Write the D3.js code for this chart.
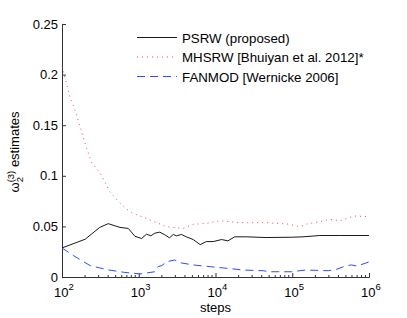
<!DOCTYPE html>
<html>
<head>
<meta charset="utf-8">
<script src="https://cdn.jsdelivr.net/npm/d3@7"></script>
<style>
  body { margin: 0; background: #fff; }
  text { font-family: "Liberation Sans", Arial, sans-serif; }
</style>
</head>
<body>
<script>
const width = 407;
const height = 318;

// values (x = steps, y = estimate)
const psrwSteps = [100, 200, 310, 400, 570, 730, 890, 1090, 1260, 1440, 1620, 1880, 2190, 2510, 2820, 3090, 3610, 4170, 5130, 6310, 7590, 9330, 12000, 14500, 17800, 25100, 45700, 100000, 138000, 229000, 417000, 1000000];
const psrwValues = [0.0287, 0.0373, 0.049, 0.0527, 0.049, 0.048, 0.0403, 0.038, 0.0423, 0.0407, 0.0433, 0.0443, 0.0417, 0.0387, 0.042, 0.0407, 0.042, 0.0397, 0.037, 0.032, 0.035, 0.035, 0.037, 0.0357, 0.0397, 0.0397, 0.039, 0.0393, 0.0397, 0.041, 0.041, 0.041];

const mhsrwSteps = [100, 127, 148, 200, 244, 313, 422, 537, 697, 841, 1100, 1480, 1890, 2310, 3800, 5130, 7670, 11500, 20900, 46800, 85100, 126000, 155000, 229000, 309000, 417000, 631000, 1000000];
const mhsrwValues = [0.208, 0.178, 0.165, 0.132, 0.113, 0.103, 0.084, 0.075, 0.067, 0.063, 0.0596, 0.0556, 0.0524, 0.0497, 0.048, 0.052, 0.053, 0.0556, 0.0537, 0.0537, 0.0524, 0.0497, 0.0524, 0.0547, 0.057, 0.0556, 0.0603, 0.0596];

const fanmodSteps = [100, 140, 232, 380, 631, 1040, 1620, 1780, 2000, 2310, 2950, 3470, 5130, 8510, 14100, 22900, 41700, 51300, 72400, 97700, 148000, 200000, 295000, 380000, 490000, 589000, 692000, 891000, 1000000];
const fanmodValues = [0.0287, 0.0213, 0.0113, 0.0073, 0.0047, 0.003, 0.0052, 0.0102, 0.0113, 0.0151, 0.0168, 0.0141, 0.0119, 0.0102, 0.0086, 0.0069, 0.0062, 0.0052, 0.0052, 0.0052, 0.0069, 0.0066, 0.0062, 0.0076, 0.0109, 0.0119, 0.0109, 0.0135, 0.015];

const yTicks = [0, 0.05, 0.1, 0.15, 0.2, 0.25];
const xTicks = [1e2, 1e3, 1e4, 1e5, 1e6];
const legendLabels = ["PSRW (proposed)", "MHSRW [Bhuiyan et al. 2012]*", "FANMOD [Wernicke 2006]"];

const margin = { top: 24, right: 38, bottom: 41, left: 62 };

const svg = d3.select("body")
    .append("svg")
    .attr("width", width)
    .attr("height", height);

const x = d3.scaleLog()
    .domain([1e2, 1e6])
    .range([margin.left, width - margin.right]);

const y = d3.scaleLinear()
    .domain([0, 0.25])
    .range([height - margin.bottom, margin.top]);

const axisColor = "#333";

// y axis, ticks pointing inward
const yAxis = svg.append("g")
    .attr("transform", `translate(${margin.left},0)`)
    .call(d3.axisLeft(y)
        .tickValues(yTicks)
        .tickSize(-4)
        .tickPadding(4)
        .tickFormat(d => d === 0 ? "0" : String(d)));
yAxis.select(".domain").attr("stroke", axisColor);
yAxis.selectAll(".tick line").attr("stroke", axisColor);
yAxis.selectAll(".tick text")
    .attr("font-size", 13)
    .attr("fill", "#000")
    .attr("font-family", "Liberation Sans, Arial, sans-serif");

// x axis with minor log ticks
const minor = [];
for (let e = 2; e < 6; e++) {
    for (let m = 2; m <= 9; m++) minor.push(m * Math.pow(10, e));
}
const xAxis = svg.append("g")
    .attr("transform", `translate(0,${height - margin.bottom})`)
    .call(d3.axisBottom(x)
        .tickValues(xTicks)
        .tickSize(-4)
        .tickFormat(""));
xAxis.select(".domain").attr("stroke", axisColor);
xAxis.selectAll(".tick line").attr("stroke", axisColor);

svg.append("g")
    .selectAll("line")
    .data(minor)
    .join("line")
    .attr("x1", d => x(d))
    .attr("x2", d => x(d))
    .attr("y1", height - margin.bottom)
    .attr("y2", height - margin.bottom - 2)
    .attr("stroke", axisColor);

// 10^n labels
const xl = svg.append("g")
    .selectAll("text")
    .data(xTicks)
    .join("text")
    .attr("x", d => x(d) + 2)
    .attr("y", 297)
    .attr("text-anchor", "middle")
    .attr("font-size", 13);
xl.append("tspan").text("10");
xl.append("tspan")
    .attr("dy", -7)
    .attr("font-size", 9.5)
    .text(d => Math.round(Math.log10(d)));

// axis titles
svg.append("text")
    .attr("x", (x.range()[0] + x.range()[1]) / 2)
    .attr("y", 312)
    .attr("text-anchor", "middle")
    .attr("font-size", 13)
    .text("steps");

const yl = svg.append("text")
    .attr("transform", `translate(19,${152}) rotate(-90)`)
    .attr("text-anchor", "middle")
    .attr("font-size", 13);
yl.append("tspan").text("\u03c9");
yl.append("tspan").attr("font-size", 9.5).attr("dy", 4).text("2");
yl.append("tspan").attr("font-size", 9.5).attr("dx", -5.3).attr("dy", -9).text("(3)");
yl.append("tspan").attr("dy", 5).text(" estimates");

// series
const line = d3.line()
    .x(d => x(d[0]))
    .y(d => y(d[1]));

const series = [
    { steps: psrwSteps, values: psrwValues, color: "#000", dash: null, width: 0.9 },
    { steps: mhsrwSteps, values: mhsrwValues, color: "#ff4545", dash: "1,4", width: 1 },
    { steps: fanmodSteps, values: fanmodValues, color: "#2a4dff", dash: "8,5", width: 1 }
];

series.forEach(s => {
    svg.append("path")
        .datum(d3.zip(s.steps, s.values))
        .attr("fill", "none")
        .attr("stroke", s.color)
        .attr("stroke-width", s.width)
        .attr("stroke-dasharray", s.dash)
        .attr("d", line);
});

// legend
const legend = svg.append("g");
series.forEach((s, i) => {
    const ly = 37.5 + i * 19.5;
    legend.append("line")
        .attr("x1", 137)
        .attr("x2", 177)
        .attr("y1", ly)
        .attr("y2", ly)
        .attr("stroke", s.color)
        .attr("stroke-width", s.width)
        .attr("stroke-dasharray", s.dash);
    legend.append("text")
        .attr("x", 182)
        .attr("y", ly + 5)
        .attr("font-size", 13.3)
        .text(legendLabels[i]);
});
</script>
</body>
</html>
